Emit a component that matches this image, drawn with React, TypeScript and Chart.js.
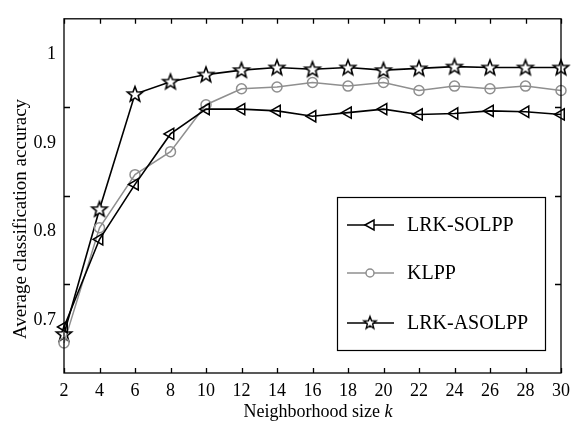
import React, { useEffect, useRef } from "react";
import { Chart, registerables } from "chart.js";

Chart.register(...registerables);

const kValues = [2, 4, 6, 8, 10, 12, 14, 16, 18, 20, 22, 24, 26, 28, 30];
const lrkSolpp = [0.692, 0.791, 0.853, 0.91, 0.938, 0.938, 0.936, 0.93, 0.934, 0.938, 0.932, 0.933, 0.936, 0.935, 0.932];
const klpp = [0.674, 0.804, 0.864, 0.89, 0.943, 0.961, 0.963, 0.968, 0.964, 0.968, 0.959, 0.964, 0.961, 0.964, 0.959];
const lrkAsolpp = [0.684, 0.825, 0.955, 0.969, 0.977, 0.982, 0.985, 0.983, 0.985, 0.982, 0.984, 0.986, 0.985, 0.985, 0.985];
const seriesNames = ["LRK-SOLPP", "KLPP", "LRK-ASOLPP"];
const xTicks = [2, 4, 6, 8, 10, 12, 14, 16, 18, 20, 22, 24, 26, 28, 30];
const yTickValues = [0.7, 0.8, 0.9, 1.0];
const yTickLabels = ["0.7", "0.8", "0.9", "1"];
const yMinorMarks = [0.74, 0.84, 0.94];

const FONT = "'Liberation Serif', 'Times New Roman', serif";
const GRAY = "#8f8f8f";

function makeStar(outer: number, lw: number): HTMLCanvasElement {
  const size = Math.ceil(outer * 2 + lw * 2 + 2);
  const c = document.createElement("canvas");
  c.width = size;
  c.height = size;
  const ctx = c.getContext("2d")!;
  const cx = size / 2;
  const cy = size / 2 + 0.5;
  ctx.beginPath();
  for (let i = 0; i < 10; i++) {
    const r = i % 2 === 0 ? outer : outer * 0.42;
    const a = -Math.PI / 2 + (i * Math.PI) / 5;
    const x = cx + r * Math.cos(a);
    const y = cy + r * Math.sin(a);
    if (i === 0) ctx.moveTo(x, y);
    else ctx.lineTo(x, y);
  }
  ctx.closePath();
  ctx.fillStyle = "#fff";
  ctx.fill();
  ctx.lineWidth = lw;
  ctx.strokeStyle = "#000";
  ctx.lineJoin = "miter";
  ctx.stroke();
  return c;
}

export default function App() {
  const ref = useRef<HTMLCanvasElement | null>(null);

  useEffect(() => {
    if (!ref.current) return;
    const star = makeStar(8, 1.6);
    const legendStar = makeStar(6.5, 1.4);

    const overlay = {
      id: "overlay",
      afterDraw(chart: any) {
        const ctx = chart.ctx as CanvasRenderingContext2D;
        const { left, right, top, bottom } = chart.chartArea;
        const xs = chart.scales.x;
        const ys = chart.scales.y;
        ctx.save();
        ctx.strokeStyle = "#000";
        ctx.lineWidth = 1.3;
        ctx.strokeRect(left, top, right - left, bottom - top);
        ctx.beginPath();
        for (const k of xTicks) {
          const x = Math.round(xs.getPixelForValue(k)) + 0.5;
          ctx.moveTo(x, bottom);
          ctx.lineTo(x, bottom - 5);
          ctx.moveTo(x, top);
          ctx.lineTo(x, top + 5);
        }
        for (const v of yMinorMarks) {
          const y = Math.round(ys.getPixelForValue(v)) + 0.5;
          ctx.moveTo(left, y);
          ctx.lineTo(left + 6, y);
          ctx.moveTo(right, y);
          ctx.lineTo(right - 6, y);
        }
        ctx.stroke();

        // axis titles
        ctx.fillStyle = "#000";
        ctx.textBaseline = "alphabetic";
        const t1 = "Neighborhood size ";
        ctx.font = `18px ${FONT}`;
        const w1 = ctx.measureText(t1).width;
        ctx.font = `italic 18px ${FONT}`;
        const w2 = ctx.measureText("k").width;
        const cx = 318;
        const sx = cx - (w1 + w2) / 2;
        ctx.font = `18px ${FONT}`;
        ctx.textAlign = "left";
        ctx.fillText(t1, sx, 417);
        ctx.font = `italic 18px ${FONT}`;
        ctx.fillText("k", sx + w1, 417);

        ctx.save();
        ctx.translate(26, 219);
        ctx.rotate(-Math.PI / 2);
        ctx.font = `19px ${FONT}`;
        ctx.textAlign = "center";
        ctx.fillText("Average classification accuracy", 0, 0);
        ctx.restore();

        // legend
        const lx = 337.5, ly = 197.5, lw = 208, lh = 153;
        ctx.fillStyle = "#fff";
        ctx.fillRect(lx, ly, lw, lh);
        ctx.lineWidth = 1.2;
        ctx.strokeStyle = "#000";
        ctx.strokeRect(lx, ly, lw, lh);
        const rows = [225, 273, 323];
        ctx.font = `20px ${FONT}`;
        ctx.textAlign = "left";
        ctx.textBaseline = "middle";
        rows.forEach((ry, i) => {
          const color = i === 1 ? GRAY : "#000";
          ctx.strokeStyle = color;
          ctx.lineWidth = 1.5;
          ctx.beginPath();
          ctx.moveTo(347, ry);
          ctx.lineTo(394, ry);
          ctx.stroke();
          const mx = 370;
          if (i === 0) {
            ctx.beginPath();
            ctx.moveTo(mx - 5, ry);
            ctx.lineTo(mx + 4, ry - 5);
            ctx.lineTo(mx + 4, ry + 5);
            ctx.closePath();
            ctx.fillStyle = "#fff";
            ctx.fill();
            ctx.stroke();
          } else if (i === 1) {
            ctx.beginPath();
            ctx.arc(mx, ry, 4, 0, Math.PI * 2);
            ctx.fillStyle = "#fff";
            ctx.fill();
            ctx.stroke();
          } else {
            ctx.drawImage(legendStar, mx - legendStar.width / 2, ry - legendStar.height / 2 - 0.5);
          }
          ctx.fillStyle = "#000";
          ctx.fillText(seriesNames[i], 407, ry + 1);
        });
        ctx.restore();
      },
    };

    const toPts = (arr: number[]) => kValues.map((k, i) => ({ x: k, y: arr[i] }));

    const chart = new Chart(ref.current, {
      type: "line",
      data: {
        datasets: [
          {
            label: seriesNames[0],
            data: toPts(lrkSolpp),
            borderColor: "#000",
            borderWidth: 1.6,
            pointStyle: "triangle",
            rotation: -90,
            pointRadius: 6.5,
            pointBorderWidth: 1.5,
            pointBorderColor: "#000",
            pointBackgroundColor: "rgba(0,0,0,0)",
            clip: false,
          },
          {
            label: seriesNames[1],
            data: toPts(klpp),
            borderColor: GRAY,
            borderWidth: 1.5,
            pointStyle: "circle",
            pointRadius: 5,
            pointBorderWidth: 1.5,
            pointBorderColor: GRAY,
            pointBackgroundColor: "rgba(0,0,0,0)",
            clip: false,
          },
          {
            label: seriesNames[2],
            data: toPts(lrkAsolpp),
            borderColor: "#000",
            borderWidth: 1.6,
            pointStyle: star as any,
            pointRadius: 8,
            clip: false,
          },
        ] as any,
      },
      options: {
        animation: false,
        responsive: false,
        layout: { padding: { top: 11, right: 11, left: 0, bottom: 0 } },
        plugins: { legend: { display: false }, tooltip: { enabled: false } },
        elements: { line: { tension: 0 } },
        scales: {
          x: {
            type: "linear",
            min: 2,
            max: 30,
            grid: { display: false, drawTicks: false },
            border: { display: false },
            ticks: { color: "#000", font: { family: FONT, size: 18 }, padding: 7, maxRotation: 0 },
            afterBuildTicks: (s: any) => {
              s.ticks = xTicks.map((v) => ({ value: v }));
            },
            afterFit: (s: any) => {
              s.height = 63;
            },
          },
          y: {
            type: "linear",
            min: 0.64,
            max: 1.04,
            grid: { display: false, drawTicks: false },
            border: { display: false },
            ticks: {
              color: "#000",
              font: { family: FONT, size: 18 },
              padding: 8,
              callback: (v: any) => {
                const idx = yTickValues.findIndex((t) => Math.abs(t - v) < 1e-6);
                return idx >= 0 ? yTickLabels[idx] : "";
              },
            },
            afterBuildTicks: (s: any) => {
              s.ticks = yTickValues.map((v) => ({ value: v }));
            },
            afterFit: (s: any) => {
              s.width = 64;
            },
          },
        },
      } as any,
      plugins: [overlay],
    });
    return () => chart.destroy();
  }, []);

  return (
    <div style={{ position: "absolute", left: 0, top: 0, width: 577, height: 436, background: "#fff" }}>
      <canvas ref={ref} width={577} height={436} style={{ display: "block" }} />
    </div>
  );
}
